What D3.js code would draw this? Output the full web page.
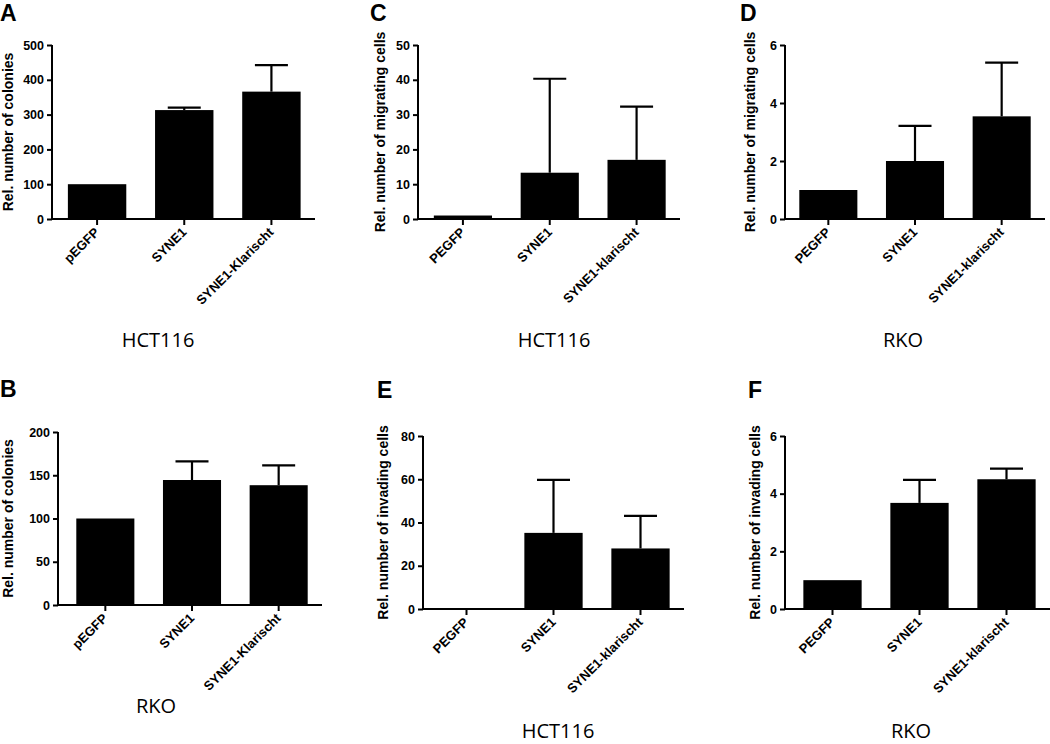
<!DOCTYPE html>
<html>
<head>
<meta charset="utf-8">
<script src="https://cdn.jsdelivr.net/npm/d3@7"></script>
<style>
  body { margin: 0; background: #fff; }
  svg { display: block; }
  .tick-label { font-family: "Liberation Sans", Arial, sans-serif; font-weight: bold; font-size: 12.5px; }
  .cat-label { font-family: "Liberation Sans", Arial, sans-serif; font-weight: bold; font-size: 13px; }
  .y-title { font-family: "Liberation Sans", Arial, sans-serif; font-weight: bold; font-size: 14px; }
  .panel-letter { font-family: "Liberation Sans", Arial, sans-serif; font-weight: bold; font-size: 23px; }
  .subtitle { font-family: "Open Sans", "Noto Sans", sans-serif; font-size: 20px; }
</style>
</head>
<body>
<div id="chart"></div>
<script>
// categories
const catsUpper = ['pEGFP', 'SYNE1', 'SYNE1-Klarischt'];
const catsLower = ['PEGFP', 'SYNE1', 'SYNE1-klarischt'];

// means and SEM (upper error only)
const colonyHCT = [100, 313, 366];
const colonyHCTErr = [0, 7, 76];
const colonyRKO = [100, 144.5, 138.5];
const colonyRKOErr = [0, 21.5, 23];
const migHCT = [1, 13.3, 17];
const migHCTErr = [0, 27, 15.3];
const migRKO = [1, 2, 3.54];
const migRKOErr = [0, 1.21, 1.85];
const invHCT = [0, 35.2, 28];
const invHCTErr = [0, 24.5, 15.1];
const invRKO = [1, 3.68, 4.5];
const invRKOErr = [0, 0.8, 0.37];

// y ticks
const ticksColonyHCT = [0, 100, 200, 300, 400, 500];
const ticksColonyRKO = [0, 50, 100, 150, 200];
const ticksMigHCT = [0, 10, 20, 30, 40, 50];
const ticksMigRKO = [0, 2, 4, 6];
const ticksInvHCT = [0, 20, 40, 60, 80];
const ticksInvRKO = [0, 2, 4, 6];

const panels = [
  { letter: 'A', cats: catsUpper, vals: colonyHCT, errs: colonyHCTErr, ticks: ticksColonyHCT,
    yTitle: 'Rel. number of colonies', sub: 'HCT116',
    axisX: 52, bx0: 53.5, bx1: 315, top: 45, bottom: 219, titleX: 8, letterX: 0, letterY: 21, subX: 158, subY: 347 },
  { letter: 'B', cats: catsUpper, vals: colonyRKO, errs: colonyRKOErr, ticks: ticksColonyRKO,
    yTitle: 'Rel. number of colonies', sub: 'RKO',
    axisX: 58, bx0: 62, bx1: 322, top: 432, bottom: 605, titleX: 8, letterX: 0, letterY: 397, subX: 156, subY: 713 },
  { letter: 'C', cats: catsLower, vals: migHCT, errs: migHCTErr, ticks: ticksMigHCT,
    yTitle: 'Rel. number of migrating cells', sub: 'HCT116',
    axisX: 418, bx0: 419.5, bx1: 680, top: 45, bottom: 219, titleX: 380, letterX: 370, letterY: 21, subX: 554, subY: 347 },
  { letter: 'D', cats: catsLower, vals: migRKO, errs: migRKOErr, ticks: ticksMigRKO,
    yTitle: 'Rel. number of migrating cells', sub: 'RKO',
    axisX: 785, bx0: 785, bx1: 1045, top: 45, bottom: 219, titleX: 750, letterX: 740, letterY: 21, subX: 903, subY: 347 },
  { letter: 'E', cats: catsLower, vals: invHCT, errs: invHCTErr, ticks: ticksInvHCT,
    yTitle: 'Rel. number of invading cells', sub: 'HCT116',
    axisX: 423, bx0: 423, bx1: 684, top: 436, bottom: 609, titleX: 383, letterX: 377, letterY: 398, subX: 558, subY: 738 },
  { letter: 'F', cats: catsLower, vals: invRKO, errs: invRKOErr, ticks: ticksInvRKO,
    yTitle: 'Rel. number of invading cells', sub: 'RKO',
    axisX: 785, bx0: 789, bx1: 1050, top: 436, bottom: 609, titleX: 755, letterX: 748, letterY: 398, subX: 911, subY: 738 }
];

const svg = d3.select('#chart')
  .append('svg')
  .attr('width', 1050)
  .attr('height', 744);

panels.forEach(p => {
  const g = svg.append('g');
  const yMax = p.ticks[p.ticks.length - 1];

  const x = d3.scaleBand()
    .domain(p.cats)
    .range([p.bx0, p.bx1])
    .paddingInner(0.33)
    .paddingOuter(0.165);

  const y = d3.scaleLinear()
    .domain([0, yMax])
    .range([p.bottom, p.top]);

  // bars
  g.selectAll('.bar')
    .data(p.cats)
    .enter()
    .append('rect')
    .attr('class', 'bar')
    .attr('x', d => x(d))
    .attr('width', x.bandwidth())
    .attr('y', (d, i) => y(p.vals[i]))
    .attr('height', (d, i) => p.bottom - y(p.vals[i]))
    .attr('fill', '#000');

  // error bars (upper only)
  const capW = 33;
  p.cats.forEach((c, i) => {
    if (!p.errs[i]) return;
    const cx = x(c) + x.bandwidth() / 2;
    const yTop = y(p.vals[i] + p.errs[i]);
    g.append('line')
      .attr('x1', cx).attr('x2', cx)
      .attr('y1', y(p.vals[i])).attr('y2', yTop)
      .attr('stroke', '#000').attr('stroke-width', 2.2);
    g.append('line')
      .attr('x1', cx - capW / 2).attr('x2', cx + capW / 2)
      .attr('y1', yTop).attr('y2', yTop)
      .attr('stroke', '#000').attr('stroke-width', 2.2);
  });

  // y axis
  const yAxis = g.append('g')
    .attr('transform', `translate(${p.axisX},0)`)
    .call(d3.axisLeft(y).tickValues(p.ticks).tickFormat(d3.format('d'))
      .tickSize(5).tickSizeOuter(0).tickPadding(3));
  yAxis.attr('font-size', null).attr('font-family', null);
  yAxis.select('.domain').attr('stroke-width', 2).attr('d', `M0,${p.bottom + 1}V${p.top}`);
  yAxis.selectAll('.tick line').attr('stroke-width', 2);
  yAxis.selectAll('.tick text').attr('class', 'tick-label').attr('fill', '#000');

  // x axis
  const xAxisG = g.append('g');
  xAxisG.append('line')
    .attr('x1', p.axisX - 1).attr('x2', p.bx1)
    .attr('y1', p.bottom).attr('y2', p.bottom)
    .attr('stroke', '#000').attr('stroke-width', 2);
  p.cats.forEach(c => {
    const cx = x(c) + x.bandwidth() / 2;
    xAxisG.append('line')
      .attr('x1', cx).attr('x2', cx)
      .attr('y1', p.bottom).attr('y2', p.bottom + 6)
      .attr('stroke', '#000').attr('stroke-width', 2);
    xAxisG.append('text')
      .attr('class', 'cat-label')
      .attr('text-anchor', 'end')
      .attr('transform', `translate(${cx + 3},${p.bottom + 14}) rotate(-45)`)
      .text(c);
  });

  // y title
  g.append('text')
    .attr('class', 'y-title')
    .attr('text-anchor', 'middle')
    .attr('dy', '0.35em')
    .attr('transform', `translate(${p.titleX},${(p.top + p.bottom) / 2}) rotate(-90)`)
    .text(p.yTitle);

  // panel letter
  g.append('text')
    .attr('class', 'panel-letter')
    .attr('x', p.letterX)
    .attr('y', p.letterY)
    .text(p.letter);

  // cell line subtitle
  g.append('text')
    .attr('class', 'subtitle')
    .attr('text-anchor', 'middle')
    .attr('x', p.subX)
    .attr('y', p.subY)
    .text(p.sub);
});
</script>
</body>
</html>
